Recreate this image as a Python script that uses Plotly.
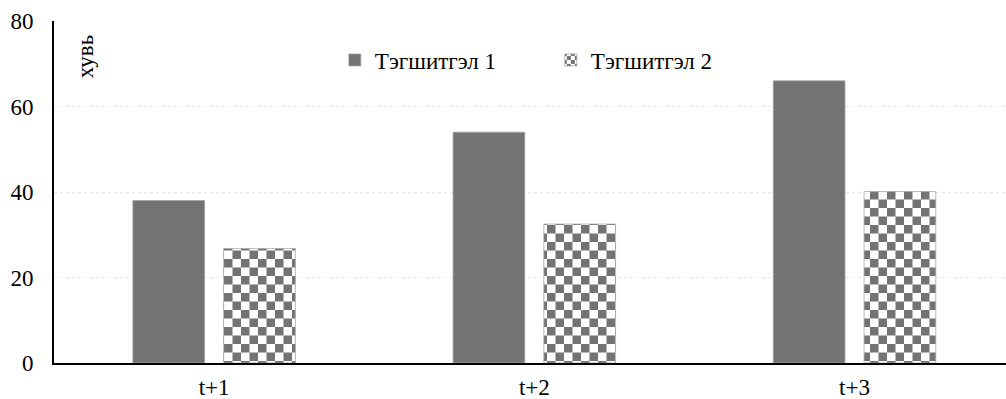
import plotly.graph_objects as go

# Chart data
categories = ["t+1", "t+2", "t+3"]
series_names = ["Тэгшитгэл 1", "Тэгшитгэл 2"]
series1 = [38.0, 54.0, 66.0]
series2 = [26.8, 32.5, 40.1]
y_ticks = [0, 20, 40, 60, 80]

GRAY = "#737373"
FONT = dict(family="'Times New Roman', 'Liberation Serif', serif", size=23, color="#000000")

fig = go.Figure()
fig.add_trace(go.Bar(
    name=series_names[0], x=categories, y=series1,
    marker=dict(color=GRAY, line=dict(color="#a6a6a6", width=0.8)),
))
fig.add_trace(go.Bar(
    name=series_names[1], x=categories, y=series2,
    marker=dict(color="#ffffff", line=dict(color="#a6a6a6", width=0.8),
                pattern=dict(shape="+", size=17, solidity=0.5,
                             fgcolor=GRAY, bgcolor="#ffffff", fillmode="replace")),
))

fig.update_layout(
    width=1006, height=399,
    margin=dict(l=54, r=0, t=21, b=36, autoexpand=False),
    paper_bgcolor="#ffffff", plot_bgcolor="#ffffff",
    font=FONT,
    barmode="group", bargap=0.433, bargroupgap=0.21,
    showlegend=True,
    legend=dict(orientation="h", x=0.295, xanchor="left", y=0.886, yanchor="middle",
                entrywidth=171, entrywidthmode="pixels",
                font=FONT, bgcolor="rgba(0,0,0,0)", traceorder="normal"),
    annotations=[dict(text="хувь", textangle=-90, xref="paper", yref="paper",
                      x=0.033, y=0.895, showarrow=False, font=FONT,
                      xanchor="center", yanchor="middle")],
)
fig.update_xaxes(
    range=[-0.5, 2.473], showline=True, linecolor="#000000", linewidth=2,
    showgrid=False, ticks="", ticklabelstandoff=2, tickfont=FONT, automargin=False,
)
fig.update_yaxes(
    range=[0, 80], tickvals=y_ticks, showline=True, linecolor="#000000", linewidth=2,
    showgrid=True, gridcolor="#e6e6e6", griddash="dot", gridwidth=1,
    zeroline=False, ticks="", ticklabelstandoff=14, tickfont=FONT, automargin=False,
)

# Turn the "+" fill pattern into a checkerboard tile
checker_js = """
var gd = document.getElementById('{plot_id}');
var NS = 'http://www.w3.org/2000/svg';
gd.querySelectorAll('pattern').forEach(function(p) {
  var s = parseFloat(p.getAttribute('width'));
  var h = s / 2;
  while (p.firstChild) { p.removeChild(p.firstChild); }
  var bg = document.createElementNS(NS, 'rect');
  bg.setAttribute('width', s); bg.setAttribute('height', s);
  bg.setAttribute('fill', '#ffffff');
  p.appendChild(bg);
  var sq = document.createElementNS(NS, 'path');
  sq.setAttribute('d', 'M0,0H' + h + 'V' + h + 'H0Z M' + h + ',' + h + 'H' + s + 'V' + s + 'H' + h + 'Z');
  sq.setAttribute('fill', '""" + GRAY + """');
  p.appendChild(sq);
});
"""

fig.write_html("out.html", post_script=checker_js, config={"responsive": False, "displayModeBar": False})
